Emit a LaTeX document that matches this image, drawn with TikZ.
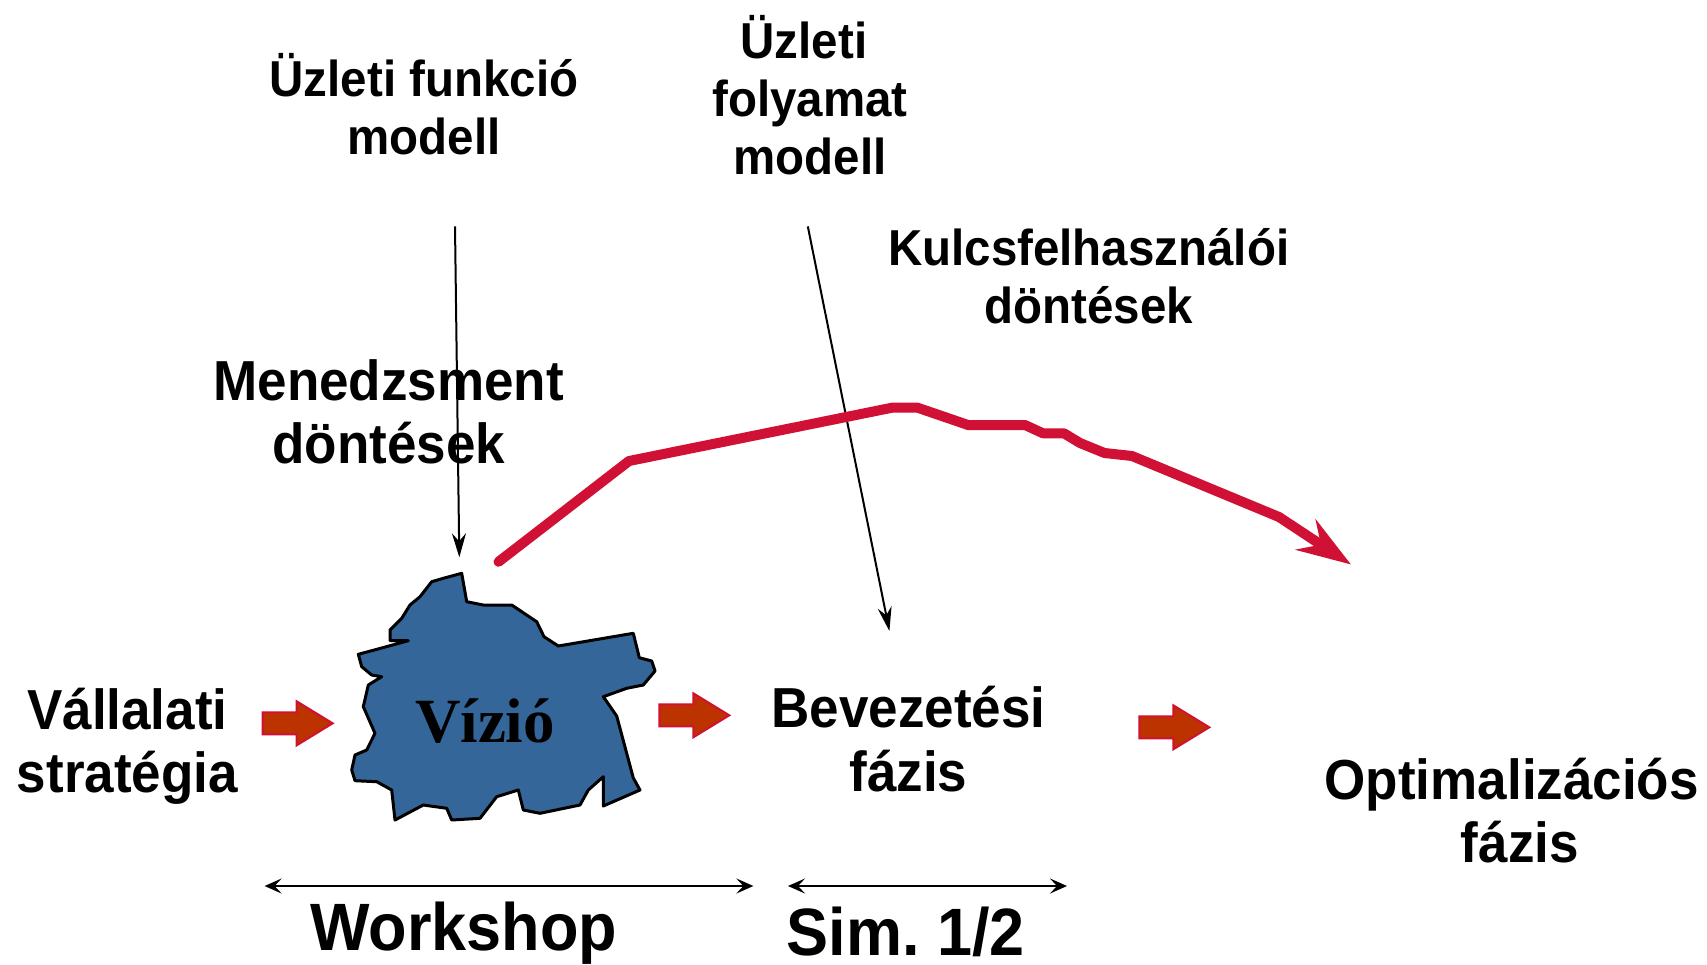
\documentclass[tikz,border=0pt]{standalone}
\usepackage{fontspec}
\setmainfont{Liberation Sans}
\newfontfamily\lsans{Liberation Sans}[FakeStretch=0.94]
\newfontfamily\lserif{Liberation Serif}
\usetikzlibrary{arrows.meta}
\definecolor{crim}{RGB}{208,16,52}
\definecolor{brick}{RGB}{189,51,0}
\definecolor{blobblue}{RGB}{52,102,153}
\tikzset{
 lbl/.style={anchor=base, inner sep=0pt},
 topl/.style={lbl, font=\lsans\bfseries\fontsize{50.5}{58}\selectfont},
 midl/.style={lbl, font=\lsans\bfseries\fontsize{56.4}{64}\selectfont},
 botl/.style={lbl, font=\lsans\bfseries\fontsize{67}{76}\selectfont},
 thinarrow/.style={line width=2pt, -{Stealth[length=24pt,width=14pt,inset=8pt]}},
 spanarrow/.style={line width=2.5pt, {Stealth[length=17pt,width=15pt,inset=7pt]}-{Stealth[length=17pt,width=15pt,inset=7pt]}},
 redpath/.style={draw=crim, line width=10pt, line cap=round, line join=round, -{Stealth[length=54pt,width=36pt,inset=18pt]}},
 blockarrow/.pic={\filldraw[fill=brick, draw=crim, line width=2pt, line join=miter] (0,-11) -- (34,-11) -- (34,-22) -- (70,0) -- (34,22) -- (34,11) -- (0,11) -- cycle;},
}
\begin{document}
\begin{tikzpicture}[x=1pt,y=-1pt]
\useasboundingbox (0,0) rectangle (1707,964);

% top texts
\node[topl] (ufa) at (424,96.9) {Üzleti funkció};
\node[topl] (ufb) at (424,154.6) {modell};
\node[topl] (upa) at (804,58.8) {Üzleti};
\node[topl] (upb) at (810,116.5) {folyamat};
\node[topl] (upc) at (810,174.2) {modell};
\node[topl] (kfa) at (1088.7,265.6) {Kulcsfelhasználói};
\node[topl] (kfb) at (1088.7,323.3) {döntések};
\node[midl] (mda) at (388.7,400.6) {Menedzsment};
\node[midl] (mdb) at (388.7,463.8) {döntések};

% blob
\draw[fill=blobblue, line width=3pt, line join=round]
 (461.7,573.3) -- (466.7,601.7) -- (483.3,605) -- (511.7,605) -- (536.7,621.7) -- (544,636.7) -- (558.3,646) -- (633.3,633.3) -- (639.3,657.7) -- (651.7,661) -- (655,671) -- (643.3,685) -- (626.7,688.3) -- (603.3,696.7) -- (616.7,716) -- (633.3,778) -- (640,790) -- (603.3,806) -- (603.3,776.7) -- (588.3,790) -- (580,805) -- (540,813.3) -- (523.3,810) -- (518.3,790) -- (496.7,796.7) -- (480,818.3) -- (451.7,820) -- (446.7,808.3) -- (423.3,805) -- (395,820) -- (391.7,790) -- (376.7,781.7) -- (355,780.7) -- (351.7,770) -- (355,755) -- (366.7,750) -- (375,733.3) -- (363.3,706.7) -- (368.3,685) -- (381.7,676.7) -- (371.7,675) -- (361.7,666.7) -- (358.3,654.3) -- (371.7,650.7) -- (408.3,640.7) -- (390,640.7) -- (390,630) -- (401.7,618.3) -- (410,605) -- (420,596.7) -- (431.7,581.7) -- (443.3,578.3) -- cycle;
\node[lbl, font=\lserif\bfseries\fontsize{63}{70}\selectfont] (vizio) at (485,742) {Vízió};

% middle texts
\node[midl] (vsa) at (127.4,729.4) {Vállalati};
\node[midl] (vsb) at (127.4,792.6) {stratégia};
\node[midl] (bfa) at (908.5,727.3) {Bevezetési};
\node[midl] (bfb) at (908.5,791.5) {fázis};
\node[midl] (ofa) at (1511.7,799.1) {Optimalizációs};
\node[midl] (ofb) at (1519.8,862.3) {fázis};

% bottom texts
\node[botl] (ws) at (463.8,950.4) {Workshop};
\node[botl] (sim) at (905.8,955.5) {Sim.~1/2};

% block arrows
\pic at (262.7,723.3) {blockarrow};
\pic at (659.3,715.3) {blockarrow};
\pic at (1139.3,727.3) {blockarrow};

% thin arrows
\coordinate (fmstart) at (455,226.4);
\coordinate (fmend) at (459.3,557.3);
\coordinate (pmstart) at (807.8,226.4);
\coordinate (pmend) at (889.4,631);
\draw[thinarrow] (fmstart) -- (fmend);
\draw[thinarrow] (pmstart) -- (pmend);

% span arrows
\coordinate (wsl) at (264.6,886);
\coordinate (wsr) at (753.4,886);
\coordinate (siml) at (788,886);
\coordinate (simr) at (1067,886);
\draw[spanarrow] (wsl) -- (wsr);
\draw[spanarrow] (siml) -- (simr);

% red curve
\coordinate (rstart) at (498.5,561.8);
\coordinate (rtip) at (1351,564.5);
\draw[redpath] (rstart) -- (629,461) -- (893,407.5) -- (917,407.5) -- (953.5,420) -- (968,425) -- (1025,425) -- (1043,433.3) -- (1064,433.3) -- (1080,443) -- (1104.5,453) -- (1132,456) -- (1279,517) -- (rtip);
\end{tikzpicture}
\end{document}
